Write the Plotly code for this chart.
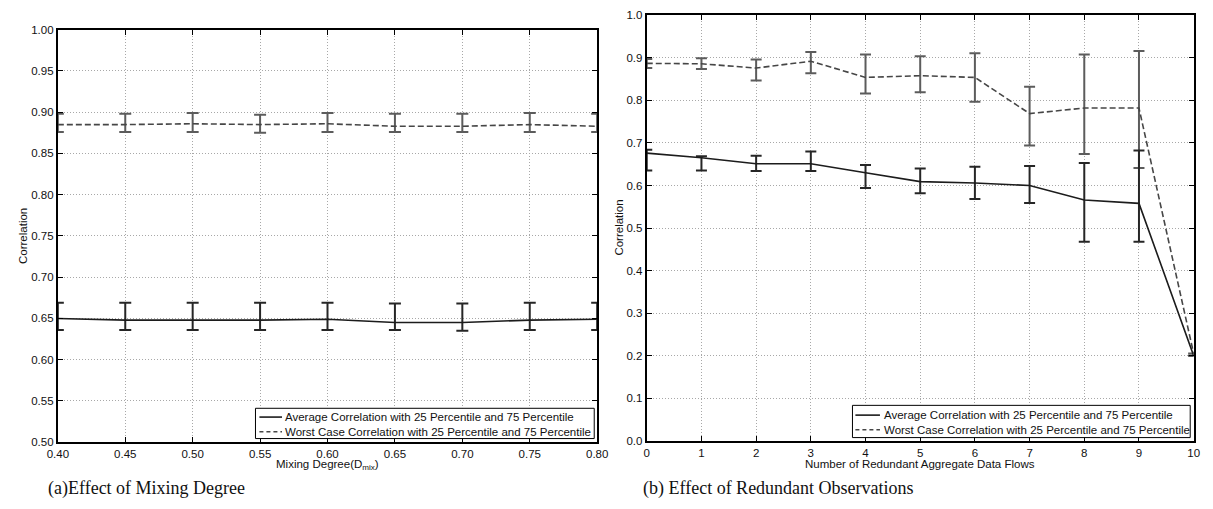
import plotly.graph_objects as go

W, H = 1213, 509

# ---------------- data (a) Effect of Mixing Degree ----------------
mix_x = [0.40, 0.45, 0.50, 0.55, 0.60, 0.65, 0.70, 0.75, 0.80]
mix_avg = [0.650, 0.648, 0.648, 0.648, 0.649, 0.645, 0.645, 0.648, 0.649]
mix_avg_p75 = [0.669, 0.669, 0.669, 0.669, 0.669, 0.668, 0.668, 0.669, 0.669]
mix_avg_p25 = [0.636, 0.636, 0.636, 0.636, 0.636, 0.636, 0.635, 0.636, 0.636]
mix_worst = [0.885, 0.885, 0.886, 0.885, 0.886, 0.883, 0.883, 0.885, 0.883]
mix_worst_p75 = [0.898, 0.898, 0.899, 0.897, 0.899, 0.898, 0.898, 0.899, 0.898]
mix_worst_p25 = [0.876, 0.876, 0.876, 0.875, 0.876, 0.876, 0.876, 0.876, 0.876]

# ---------------- data (b) Effect of Redundant Observations ----------------
red_x = [0, 1, 2, 3, 4, 5, 6, 7, 8, 9, 10]
red_avg = [0.676, 0.665, 0.651, 0.651, 0.630, 0.609, 0.606, 0.600, 0.566, 0.558, 0.200]
red_avg_p75 = [0.684, 0.669, 0.670, 0.680, 0.648, 0.640, 0.644, 0.646, 0.653, 0.682, None]
red_avg_p25 = [0.635, 0.635, 0.634, 0.634, 0.594, 0.582, 0.568, 0.559, 0.468, 0.468, None]
red_worst = [0.887, 0.886, 0.876, 0.892, 0.854, 0.858, 0.854, 0.769, 0.782, 0.782, 0.205]
red_worst_p75 = [0.897, 0.899, 0.896, 0.914, 0.908, 0.904, 0.911, 0.832, 0.908, 0.916, None]
red_worst_p25 = [0.876, 0.874, 0.847, 0.864, 0.816, 0.819, 0.797, 0.694, 0.674, 0.641, None]

legend_labels = [
    "Average Correlation with 25 Percentile and 75 Percentile",
    "Worst Case Correlation with 25 Percentile and 75 Percentile",
]
captions = ["(a)Effect of Mixing Degree", "(b) Effect of Redundant Observations"]
x_titles = ["Mixing Degree(D<sub>mix</sub>)", "Number of Redundant Aggregate Data Flows"]
y_title = "Correlation"

# ---------------- styles ----------------
AVG_LINE = "#1c1c1c"
AVG_ERR = "#262626"
WORST_LINE = "#464646"
WORST_ERR = "#5c5c5c"
GRID = "#a8a8a8"
SANS = "Liberation Sans, Arial, sans-serif"
SERIF = "Liberation Serif, Times New Roman, serif"
FS = 11.5


def px(v):
    return v / W


def py(v):
    return 1 - v / H


def err(mean, hi, lo):
    plus = [None if h is None else round(h - m, 4) for m, h in zip(mean, hi)]
    minus = [None if l is None else round(m - l, 4) for m, l in zip(mean, lo)]
    return plus, minus


fig = go.Figure()


def add_series(x, y, hi, lo, xa, ya, line_color, err_color, dash, capw):
    p, m = err(y, hi, lo)
    fig.add_trace(go.Scatter(
        x=x, y=y, mode="lines", xaxis=xa, yaxis=ya, showlegend=False,
        line=dict(color=line_color, width=1.6, dash=dash),
        error_y=dict(type="data", symmetric=False, array=p, arrayminus=m,
                     color=err_color, thickness=2, width=capw),
    ))


add_series(mix_x, mix_worst, mix_worst_p75, mix_worst_p25, "x", "y", WORST_LINE, WORST_ERR, "6px,3px", 6)
add_series(mix_x, mix_avg, mix_avg_p75, mix_avg_p25, "x", "y", AVG_LINE, AVG_ERR, "solid", 6)
add_series(red_x, red_worst, red_worst_p75, red_worst_p25, "x2", "y2", WORST_LINE, WORST_ERR, "6px,3px", 5.5)
add_series(red_x, red_avg, red_avg_p75, red_avg_p25, "x2", "y2", AVG_LINE, AVG_ERR, "solid", 5.5)

axis_common = dict(
    showgrid=True, gridcolor=GRID, gridwidth=1, griddash="1px,2px",
    zeroline=False, showline=True, linecolor="black", linewidth=2,
    mirror="allticks", ticks="inside", ticklen=5, tickwidth=1.2, tickcolor="black",
    tickfont=dict(family=SANS, size=FS, color="#111"),
)

fig.update_layout(
    width=W, height=H, autosize=False,
    margin=dict(l=0, r=0, t=0, b=0),
    paper_bgcolor="white", plot_bgcolor="white",
    showlegend=False,
    xaxis=dict(domain=[px(47.7), px(597)], range=[0.4, 0.8], tick0=0.4, dtick=0.05,
               tickformat=".2f", anchor="y", **axis_common),
    yaxis=dict(domain=[py(446.7), py(24.3)], range=[0.5, 1.0], tick0=0.5, dtick=0.05,
               tickformat=".2f", anchor="x", **axis_common),
    xaxis2=dict(domain=[px(647.5), px(1204.5)], range=[0, 10], tick0=0, dtick=1,
                anchor="y2", **axis_common),
    yaxis2=dict(domain=[py(445.3), py(9.5)], range=[0, 1.0], tick0=0, dtick=0.1,
                tickformat=".1f", anchor="x2", **axis_common),
)

ann = []
shapes = []


def text(t, x, y, size=FS, family=SANS, xanchor="center", angle=0):
    ann.append(dict(text=t, x=px(x), y=py(y), xref="paper", yref="paper",
                    xanchor=xanchor, yanchor="middle", showarrow=False, textangle=angle,
                    font=dict(family=family, size=size, color="#111")))


# axis titles
text(y_title, 12.3, 235.5, angle=-90)
text(y_title, 618.8, 227.4, angle=-90)
text(x_titles[0], 322, 470)
text(x_titles[1], 926, 469)

# captions
text(captions[0], 36, 494, size=18, family=SERIF, xanchor="left")
text(captions[1], 641.7, 494, size=18, family=SERIF, xanchor="left")

# legends (drawn as boxes with line samples)
legends = [
    dict(box=(249, 412, 594, 443), rows=(421, 436), sx=(253, 276), tx=277),
    dict(box=(857, 409, 1201, 442), rows=(419, 434), sx=(860, 885), tx=887),
]
for lg in legends:
    x0, y0, x1, y1 = lg["box"]
    shapes.append(dict(type="rect", xref="paper", yref="paper", x0=px(x0), x1=px(x1),
                       y0=py(y1), y1=py(y0), line=dict(color="black", width=1),
                       fillcolor="white", layer="above"))
    for r, (lab, col, dash) in enumerate(zip(legend_labels, [AVG_LINE, WORST_LINE], ["solid", "4px,3px"])):
        yy = lg["rows"][r]
        shapes.append(dict(type="line", xref="paper", yref="paper",
                           x0=px(lg["sx"][0]), x1=px(lg["sx"][1]), y0=py(yy), y1=py(yy),
                           line=dict(color=col, width=1.6, dash=dash), layer="above"))
        text(lab, lg["tx"], yy, xanchor="left")

fig.update_layout(annotations=ann, shapes=shapes)

fig.write_html("out.html", config={"displayModeBar": False},
               post_script="document.body.style.margin='0';")
